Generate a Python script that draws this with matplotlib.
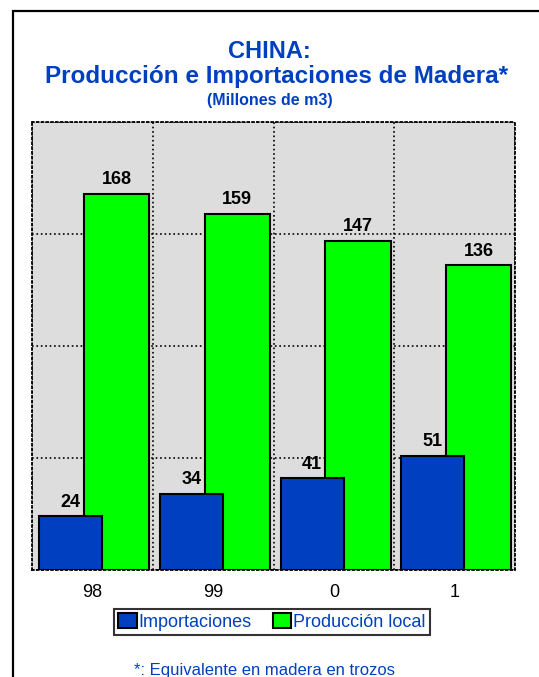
import matplotlib.pyplot as plt
from matplotlib.patches import Rectangle

# Datos
anios = ["98", "99", "0", "1"]
importaciones = [24, 34, 41, 51]
produccion = [168, 159, 147, 136]

azul = '#0040C0'
verde = '#00FF00'

plt.rcParams['font.family'] = ['Liberation Sans', 'DejaVu Sans']

fig = plt.figure(figsize=(5.39, 6.77), dpi=100)
fig.patches.append(Rectangle((13 / 539, -0.1), 1.2, 1 - 10.5 / 677 + 0.1,
                             transform=fig.transFigure, fill=False,
                             edgecolor='black', linewidth=1.6))

ax = fig.add_axes([32 / 539, 1 - 570 / 677, 483 / 539, 448 / 677])
ax.set_facecolor('#DDDDDD')

x = range(len(anios))
ax.bar([i + 0.20 for i in x], produccion, width=0.54, color=verde,
       edgecolor='black', linewidth=1.5, zorder=3, label='Producción local')
ax.bar([i - 0.18 for i in x], importaciones, width=0.52, color=azul,
       edgecolor='black', linewidth=1.5, zorder=4, label='Importaciones')

for i in x:
    ax.text(i + 0.20, produccion[i] + 2.5, str(produccion[i]), ha='center',
            va='bottom', fontsize=13, fontweight='bold', zorder=5)
    ax.text(i - 0.18, importaciones[i] + 2.5, str(importaciones[i]), ha='center',
            va='bottom', fontsize=13, fontweight='bold', zorder=5)

ax.set_xlim(-0.5, 3.5)
ax.set_ylim(0, 200)
ax.set_yticks([0, 50, 100, 150, 200])
ax.set_yticklabels([])
ax.set_xticks([-0.5, 0.5, 1.5, 2.5, 3.5], minor=False)
ax.set_xticklabels([])
ax.set_xticks(list(x), minor=True)
ax.set_xticklabels(anios, minor=True, fontsize=13)
ax.tick_params(axis='both', which='both', length=0)
ax.tick_params(axis='x', which='minor', pad=10)
ax.grid(True, which='major', color='black', linestyle=':', linewidth=1.2, zorder=1)
ax.set_axisbelow(True)
for s in ax.spines.values():
    s.set_linestyle(':')
    s.set_linewidth(1.3)

# Títulos
fig.text(0.5, 1 - 51 / 677, 'CHINA:', ha='center', va='center', color=azul,
         fontsize=17, fontweight='bold')
fig.text(0.514, 1 - 77 / 677, 'Producción e Importaciones de Madera*', ha='center',
         va='center', color=azul, fontsize=17.5, fontweight='bold')
fig.text(0.5, 1 - 101 / 677, '(Millones de m3)', ha='center', va='center',
         color=azul, fontsize=11.5, fontweight='bold')

handles, labels = ax.get_legend_handles_labels()
leg = fig.legend(handles[::-1], labels[::-1], loc='center',
                 bbox_to_anchor=(272 / 539, 1 - 622 / 677), ncol=2, fontsize=13,
                 frameon=True, fancybox=False, edgecolor='black', handlelength=1.0,
                 handleheight=0.9, handletextpad=0.1, columnspacing=1.2,
                 borderpad=0.25, borderaxespad=0)
leg.get_frame().set_linewidth(1.5)
for t in leg.get_texts():
    t.set_color(azul)

fig.text(265 / 539, 1 - 671 / 677, '*: Equivalente en madera en trozos',
         ha='center', va='center', color=azul, fontsize=12)

fig.savefig('out.png', dpi=100)
